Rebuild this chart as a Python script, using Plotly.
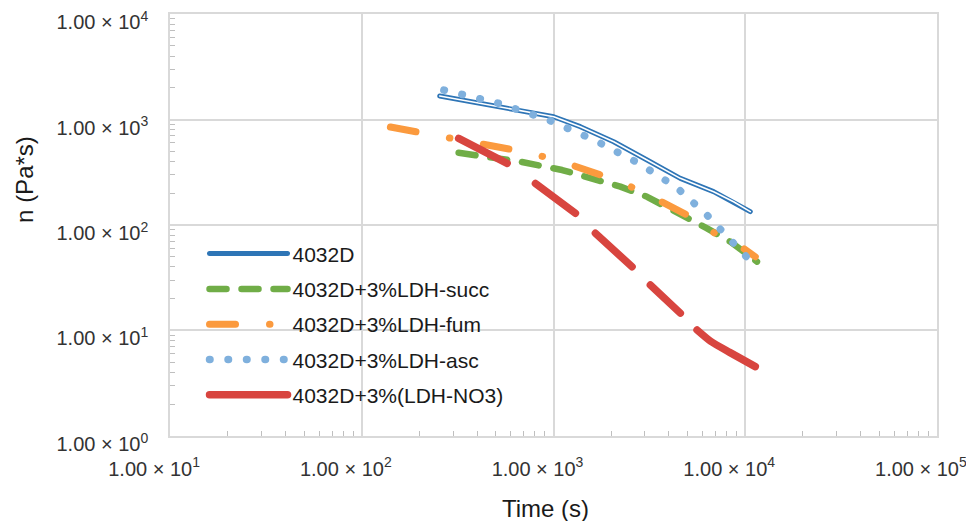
import plotly.graph_objects as go

# ---- data ----
time_4032D = [255, 416, 672, 1003, 1381, 2061, 3077, 4587, 6843, 8700, 10630]
visc_4032D = [1670, 1424, 1230, 1063, 855, 616, 413, 277, 207, 166, 134]

time_succ = [320, 400, 672, 1109, 1557, 2233, 3077, 4587, 6323, 8360, 11520]
visc_succ = [484, 461, 398, 332, 277, 231, 185, 129, 93, 69.5, 44.9]

time_fum = [141, 210, 314, 488, 699, 1044, 1496, 2102, 2897, 3911, 5173, 6714, 9240, 11290]
visc_fum = [849, 745, 639, 573, 495, 413, 332, 267, 207, 158, 120, 86.4, 64.6, 50]

time_asc = [268, 518, 944, 1674, 2781, 4374, 6323, 7876, 9506, 10851]
visc_asc = [1904, 1424, 989, 625, 385, 228, 124, 79.9, 53.9, 43.9]

time_no3 = [320, 573, None, 805, 1301, None, 1654, 2569, None, 3201, 4587, None,
            5607, 6600, 8300, 11290]
visc_no3 = [663, 384, None, 248, 129, None, 83.4, 40.2, None, 27, 14.6, None,
            10.1, 7.9, 6.2, 4.54]

series_names = ["4032D", "4032D+3%LDH-succ", "4032D+3%LDH-fum",
                "4032D+3%LDH-asc", "4032D+3%(LDH-NO3)"]

x_tick_vals = [10, 100, 1000, 10000, 100000]
x_tick_text = ["1.00 × 10<sup>1</sup>", "1.00 × 10<sup>2</sup>", "1.00 × 10<sup>3</sup>",
               "1.00 × 10<sup>4</sup>", "1.00 × 10<sup>5</sup>"]
y_tick_vals = [1, 10, 100, 1000, 10000]
y_tick_text = ["1.00 × 10<sup>0</sup>", "1.00 × 10<sup>1</sup>", "1.00 × 10<sup>2</sup>",
               "1.00 × 10<sup>3</sup>", "1.00 × 10<sup>4</sup>"]

x_title = "Time (s)"
y_title = "n (Pa*s)"

# ---- styling ----
FONT = "Liberation Sans, Arial, sans-serif"
BLUE = "#2e75b6"
GREEN = "#70ad47"
ORANGE = "#fb9a3e"
LBLUE = "#7fb0dd"
RED = "#d8453f"
GRID = "#d9d9d9"

fig = go.Figure()

fig.add_trace(go.Scatter(x=time_4032D, y=visc_4032D, mode="lines", name=series_names[0],
                         legendgroup="g1", line=dict(color=BLUE, width=5)))
fig.add_trace(go.Scatter(x=time_4032D, y=visc_4032D, mode="lines", name=series_names[0],
                         legendgroup="g1", showlegend=False, hoverinfo="skip",
                         line=dict(color="white", width=1.6)))
fig.add_trace(go.Scatter(x=time_succ, y=visc_succ, mode="lines", name=series_names[1],
                         legendgroup="g2", line=dict(color=GREEN, width=6.5, dash="17px,15px")))
fig.add_trace(go.Scatter(x=time_fum, y=visc_fum, mode="lines", name=series_names[2],
                         legendgroup="g3",
                         line=dict(color=ORANGE, width=7, dash="26px,34px,0.5px,34px")))
fig.add_trace(go.Scatter(x=time_asc, y=visc_asc, mode="lines", name=series_names[3],
                         legendgroup="g4", line=dict(color=LBLUE, width=7.5, dash="0.5px,18px")))
fig.add_trace(go.Scatter(x=time_no3, y=visc_no3, mode="lines", name=series_names[4],
                         legendgroup="g5", connectgaps=False,
                         line=dict(color=RED, width=7.5, shape="spline", smoothing=0.6)))

x_minor = [k * 10 ** e for e in range(1, 5) for k in range(2, 10)]
y_minor = [k * 10 ** e for e in range(0, 4) for k in range(2, 10)]

axis_common = dict(
    type="log", showgrid=True, gridcolor=GRID, gridwidth=1.5,
    showline=True, linecolor=GRID, linewidth=1.5, mirror=True,
    zeroline=False, ticks="", automargin=False, ticklabeloverflow="allow",
    tickfont=dict(family=FONT, size=20, color="#333333"),
)

fig.update_xaxes(**axis_common, range=[0.9995, 5.0005], tickmode="array",
                 tickvals=x_tick_vals, ticktext=x_tick_text,
                 ticklabelstandoff=14, ticklabelshift=-16,
                 minor=dict(tickmode="array", tickvals=x_minor, ticks="inside",
                            ticklen=5, tickcolor="#bfbfbf", tickwidth=1, showgrid=False))
fig.update_yaxes(**axis_common, range=[-0.0005, 4.0005], tickmode="array",
                 tickvals=y_tick_vals, ticktext=y_tick_text,
                 ticklabelstandoff=16, ticklabelshift=8,
                 minor=dict(tickmode="array", tickvals=y_minor, ticks="inside",
                            ticklen=5, tickcolor="#bfbfbf", tickwidth=1, showgrid=False))

fig.update_layout(
    width=966, height=521,
    margin=dict(l=170, r=29, t=14, b=85),
    paper_bgcolor="white", plot_bgcolor="white",
    font=dict(family=FONT, color="#1a1a1a"),
    showlegend=True,
    legend=dict(x=0.045, y=0.48, xanchor="left", yanchor="top",
                bgcolor="rgba(0,0,0,0)", tracegroupgap=5, itemwidth=78,
                font=dict(family=FONT, size=21, color="#1a1a1a")),
    annotations=[
        dict(text=x_title, xref="paper", yref="paper", x=0.489, y=-0.171,
             xanchor="center", yanchor="middle", showarrow=False,
             font=dict(family=FONT, size=24, color="#1a1a1a")),
        dict(text=y_title, xref="paper", yref="paper", x=-0.189, y=0.607,
             xanchor="center", yanchor="middle", showarrow=False, textangle=-90,
             font=dict(family=FONT, size=24, color="#1a1a1a")),
    ],
)

post_js = """
document.documentElement.style.margin = '0';
document.body.style.margin = '0';
document.body.style.padding = '0';
var gd = document.getElementById('{plot_id}');
function roundCaps(){
  gd.querySelectorAll('.scatterlayer .js-line, .legend .js-line').forEach(function(p){
    p.style.strokeLinecap = 'round'; p.style.strokeLinejoin = 'round';
  });
}
roundCaps();
gd.on('plotly_afterplot', roundCaps);
"""

fig.write_html("out.html", post_script=post_js, config={"displayModeBar": False})
